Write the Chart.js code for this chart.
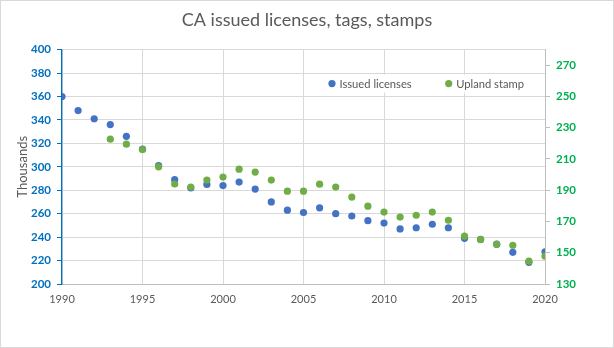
<!DOCTYPE html>
<html>
<head>
<meta charset="utf-8">
<script src="https://cdn.jsdelivr.net/npm/chart.js@4.4.1/dist/chart.umd.min.js"></script>
<style>
  html, body { margin: 0; padding: 0; background: #ffffff; }
  canvas { display: block; }
</style>
</head>
<body>
<canvas id="chart" width="614" height="348"></canvas>
<script>
// Years on the x axis
const years = [
  1990, 1991, 1992, 1993, 1994, 1995, 1996, 1997, 1998, 1999,
  2000, 2001, 2002, 2003, 2004, 2005, 2006, 2007, 2008, 2009,
  2010, 2011, 2012, 2013, 2014, 2015, 2016, 2017, 2018, 2019, 2020
];

// Issued licenses, thousands (left axis)
const issuedLicenses = [
  360, 348, 341, 336, 326, 315, 301, 289, 282, 285,
  284, 287, 281, 270, 263, 261, 265, 260, 258, 254,
  252, 247, 248, 251, 248, 239, 238, 234, 227, 218.5, 227.5
];

// Upland stamps, thousands (right axis); no data before 1993
const uplandStamp = [
  null, null, null, 222.7, 219.5, 216, 205, 194, 192, 196.5,
  198.4, 203.5, 201.6, 196.5, 189.4, 189.4, 193.9, 192, 185.6, 179.8,
  176, 172.8, 174, 176, 170.8, 160.6, 158.4, 155.4, 154.8, 144.6, 147.8
];

// Tick labels
const xTicks = [1990, 1995, 2000, 2005, 2010, 2015, 2020];
const leftTicks = [200, 220, 240, 260, 280, 300, 320, 340, 360, 380, 400];
const rightTicks = [130, 150, 170, 190, 210, 230, 250, 270];

const seriesNames = ['Issued licenses', 'Upland stamp'];

const toPoints = (vals) => years
  .map((yr, i) => ({ x: yr, y: vals[i] }))
  .filter(p => p.y !== null);

const fixedTicks = (list) => (axis) => {
  axis.ticks = list.map(v => ({ value: v }));
};

Chart.defaults.font.family = 'Lato, "Open Sans", sans-serif';

// White page with a thin outer frame
const chartFrame = {
  id: 'chartFrame',
  beforeDraw(chart) {
    const { ctx, width, height } = chart;
    ctx.save();
    ctx.fillStyle = '#ffffff';
    ctx.fillRect(0, 0, width, height);
    ctx.restore();
  },
  afterDraw(chart) {
    const { ctx, width, height } = chart;
    ctx.save();
    ctx.strokeStyle = '#d9d9d9';
    ctx.lineWidth = 1;
    ctx.strokeRect(0.5, 0.5, width - 1, height - 1);
    ctx.restore();
  }
};

// Legend floating inside the plot area, near the top right
const floatingLegend = {
  id: 'floatingLegend',
  afterDatasetsDraw(chart, args, opts) {
    const { ctx, chartArea } = chart;
    const r = opts.radius, textGap = opts.textGap, itemGap = opts.itemGap;
    ctx.save();
    ctx.font = opts.size + 'px ' + Chart.defaults.font.family;
    const items = chart.data.datasets.map(ds => ({
      label: ds.label,
      color: ds.backgroundColor,
      w: ctx.measureText(ds.label).width
    }));
    let total = 0;
    items.forEach((it, i) => {
      total += r + textGap + it.w;
      if (i < items.length - 1) total += itemGap - r;
    });
    const right = chartArea.right - opts.rightInset;
    const cy = chartArea.top + opts.topOffset;
    let x = right - total;
    ctx.fillStyle = '#ffffff';
    ctx.fillRect(x - 6, cy - 9, total + 12, 18);
    ctx.textBaseline = 'middle';
    items.forEach((it) => {
      const cx = x + r;
      ctx.beginPath();
      ctx.arc(cx, cy, r, 0, Math.PI * 2);
      ctx.fillStyle = it.color;
      ctx.fill();
      ctx.fillStyle = '#595959';
      ctx.fillText(it.label, cx + textGap, cy + 0.5);
      x = cx + textGap + it.w + itemGap - r;
    });
    ctx.restore();
  }
};

new Chart(document.getElementById('chart'), {
  type: 'scatter',
  data: {
    datasets: [
      {
        label: seriesNames[0],
        data: toPoints(issuedLicenses),
        backgroundColor: '#4472C4',
        borderWidth: 0,
        pointRadius: 3.6,
        pointHoverRadius: 3.6,
        yAxisID: 'y',
        order: 1
      },
      {
        label: seriesNames[1],
        data: toPoints(uplandStamp),
        backgroundColor: '#70AD47',
        borderWidth: 0,
        pointRadius: 3.6,
        pointHoverRadius: 3.6,
        yAxisID: 'y1',
        order: 0
      }
    ]
  },
  options: {
    responsive: false,
    animation: false,
    devicePixelRatio: 1,
    layout: { padding: 0 },
    plugins: {
      legend: { display: false },
      tooltip: { enabled: false },
      title: {
        display: true,
        text: 'CA issued licenses, tags, stamps',
        color: '#595959',
        font: { size: 18, weight: 'normal' },
        padding: { top: 9, bottom: 19 }
      },
      floatingLegend: {
        size: 11.2, radius: 3.6, textGap: 7.5, itemGap: 37,
        rightInset: 21, topOffset: 34
      }
    },
    scales: {
      x: {
        type: 'linear',
        min: 1990,
        max: 2020,
        afterBuildTicks: fixedTicks(xTicks),
        afterFit: (s) => { s.height = 64; },
        grid: { color: '#d9d9d9', drawTicks: false },
        border: { color: '#bfbfbf' },
        ticks: {
          color: '#595959',
          font: { size: 11 },
          padding: 9,
          maxRotation: 0,
          callback: (v) => String(v)
        }
      },
      y: {
        position: 'left',
        min: 200,
        max: 400,
        afterBuildTicks: fixedTicks(leftTicks),
        afterFit: (s) => { s.width = 62; },
        grid: { color: '#d9d9d9', tickColor: '#0070C0', tickLength: 5 },
        border: { color: '#0070C0', width: 1.3 },
        ticks: {
          color: '#0070C0',
          font: { size: 11.5, weight: 'bold' },
          padding: 6,
          callback: (v) => String(v)
        },
        title: {
          display: true,
          text: 'Thousands',
          color: '#595959',
          font: { size: 13, weight: 'normal' },
          padding: { top: 15, bottom: 0 }
        }
      },
      y1: {
        position: 'right',
        min: 130,
        max: 280,
        afterBuildTicks: fixedTicks(rightTicks),
        afterFit: (s) => { s.width = 69; },
        grid: { drawOnChartArea: false, color: '#bfbfbf', tickLength: 5 },
        border: { color: '#bfbfbf' },
        ticks: {
          color: '#00B050',
          font: { size: 11.5, weight: 'bold' },
          padding: 6,
          callback: (v) => String(v)
        }
      }
    }
  },
  plugins: [chartFrame, floatingLegend]
});
</script>
</body>
</html>
